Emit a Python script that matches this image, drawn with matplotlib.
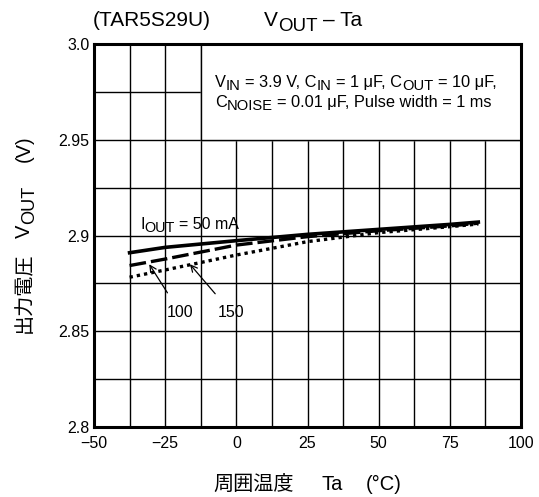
import numpy as np
import matplotlib
matplotlib.use("Agg")
import matplotlib.pyplot as plt
from matplotlib.transforms import IdentityTransform

# ── Data ──────────────────────────────────────────────────────────────────────
TA = [-37.5, -25, 0, 25, 50, 75, 85]
V_50 = [2.8910, 2.8938, 2.8973, 2.9006, 2.9032, 2.9058, 2.9070]
V_100 = [2.8843, 2.8877, 2.8950, 2.8994, 2.9025, 2.9050, 2.9064]
V_150 = [2.8782, 2.8820, 2.8898, 2.8968, 2.9015, 2.9046, 2.9060]

X_TICKS = [-50, -25, 0, 25, 50, 75, 100]
X_LABELS = ["\u221250", "\u221225", "0", "25", "50", "75", "100"]
Y_TICKS = [2.8, 2.85, 2.9, 2.95, 3.0]
Y_LABELS = ["2.8", "2.85", "2.9", "2.95", "3.0"]

W_PX, H_PX, DPI = 539, 497, 100
FS = 11.5        # tick / note text
FS_BOX = 11.8
FS_TITLE = 15
FS_LABEL = 14.5
SUB = 0.9        # subscript scale

plt.rcParams["font.family"] = ["Liberation Sans", "Noto Sans CJK JP"]

fig = plt.figure(figsize=(W_PX / DPI, H_PX / DPI), dpi=DPI)
ax = fig.add_axes([94 / W_PX, 1 - 427 / H_PX, (521 - 94) / W_PX, (427 - 44) / H_PX])
ren = fig.canvas.get_renderer()


def rich_text(x, y, parts, size, rot=0):
    """Draw text pieces one after another. x, y: baseline start in pixels
    (top-left origin). parts: (text, subscript shift in em, gap before in px)."""
    em = size * DPI / 72
    px, py = x, H_PX - y
    for s, sub, gap in parts:
        fs = size * SUB if sub else size
        shift = sub * em
        if rot == 0:
            px += gap
            t = fig.text(px, py - shift, s, transform=IdentityTransform(),
                         fontsize=fs, ha="left", va="baseline", zorder=20)
            px = t.get_window_extent(ren).x1
        else:
            py += gap
            t = fig.text(px + shift, py, s, transform=IdentityTransform(),
                         fontsize=fs, rotation=90, rotation_mode="anchor",
                         ha="left", va="baseline", zorder=20)
            py = t.get_window_extent(ren).y1


def data_px(x, y):
    dx, dy = ax.transData.transform((x, y))
    return dx, H_PX - dy


def space(size):
    return 0.278 * size * DPI / 72


ax.set_xlim(-50, 100)
ax.set_ylim(2.8, 3.0)

# grid
for x in np.arange(-50, 100.1, 12.5):
    ax.axvline(x, color="black", lw=1.0, zorder=1)
for y in np.arange(2.8, 3.0001, 0.025):
    ax.axhline(y, color="black", lw=1.0, zorder=1)

# condition box
ax.fill_between([-12.5, 100], 2.95, 3.0, color="white", zorder=2)
ax.plot([-12.5, -12.5, 100], [3.0, 2.95, 2.95], color="black", lw=1.0, zorder=3)

sp = space(FS_BOX)
rich_text(215, 87, [("V", 0, 0), ("IN", 0.18, 0), ("= 3.9 V, C", 0, sp),
                    ("IN", 0.18, 0), ("= 1 μF, C", 0, sp), ("OUT", 0.18, 0),
                    ("= 10 μF,", 0, sp)], FS_BOX)
rich_text(215, 107, [("C", 0, 0), ("NOISE", 0.18, 0),
                     ("= 0.01 μF, Pulse width = 1 ms", 0, sp)], FS_BOX)

# curves
ax.plot(TA, V_50, color="black", lw=2.6, ls="-", zorder=5)
ax.plot(TA, V_100, color="black", lw=2.4, ls=(0, (5, 1.5)), zorder=5)
ax.plot(TA, V_150, color="black", lw=2.4, ls=(0, (1, 1.2)), zorder=5)

ix, iy = data_px(-33.8, 2.9032)
rich_text(ix, iy, [("I", 0, 0), ("OUT", 0.18, 0), ("= 50 mA", 0, space(FS))], FS)

ax.annotate("100", xy=(-30.6, 2.885), xytext=(-19.8, 2.8598),
            fontsize=FS, ha="center", va="center", zorder=6,
            arrowprops=dict(arrowstyle="->", color="black", lw=0.9,
                            shrinkA=8, shrinkB=0))
ax.annotate("150", xy=(-16.3, 2.885), xytext=(-1.8, 2.8598),
            fontsize=FS, ha="center", va="center", zorder=6,
            arrowprops=dict(arrowstyle="->", color="black", lw=0.9,
                            shrinkA=8, shrinkB=0))

ax.set_xticks(X_TICKS)
ax.set_xticklabels(X_LABELS, fontsize=FS)
ax.set_yticks(Y_TICKS)
ax.set_yticklabels(Y_LABELS, fontsize=FS)
ax.tick_params(axis="x", length=0, pad=6.5)
ax.tick_params(axis="y", length=0, pad=3.4)
for s in ax.spines.values():
    s.set_linewidth(2.2)
    s.set_zorder(10)

# title
rich_text(93, 26, [("(TAR5S29U)", 0, 0)], FS_TITLE)
rich_text(264, 26, [("V", 0, 0), ("OUT", 0.22, 0),
                    ("– Ta", 0, space(FS_TITLE))], FS_TITLE)

# axis labels
rich_text(213, 490, [("周囲温度", 0, 0), ("Ta", 0, 28), ("(°C)", 0, 23)], FS_LABEL)
rich_text(30, 333, [("出力電圧", 0, 0), ("V", 0, 15), ("OUT", 0.2, 0),
                    ("(V)", 0, 24)], FS_LABEL, rot=90)

fig.savefig("out.png", dpi=DPI)
